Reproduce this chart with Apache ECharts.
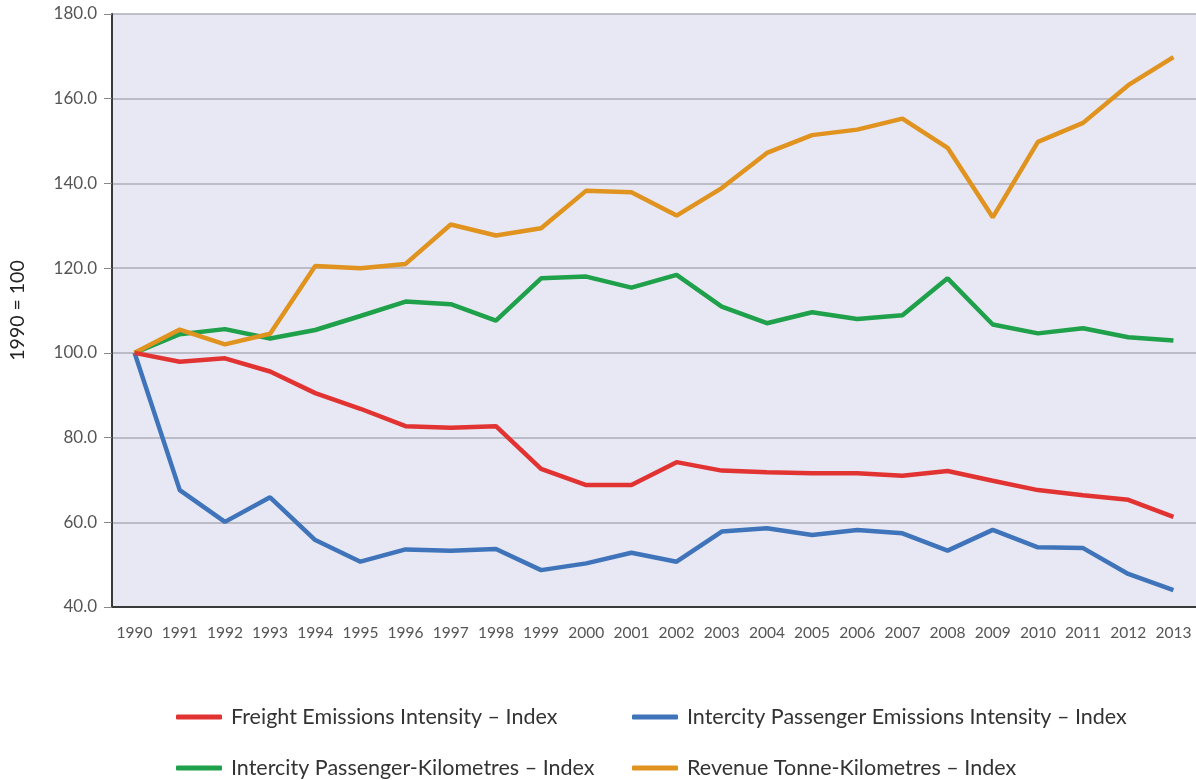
<!DOCTYPE html>
<html><head><meta charset="utf-8">
<script src="https://cdn.jsdelivr.net/npm/echarts@6/dist/echarts.min.js"></script>
<style>html,body{margin:0;padding:0;background:#fff}#c{width:1196px;height:780px}</style>
</head><body><div id="c"></div>
<script>
const years = ['1990','1991','1992','1993','1994','1995','1996','1997','1998','1999','2000','2001','2002','2003','2004','2005','2006','2007','2008','2009','2010','2011','2012','2013'];
const freightIntensity = [100,97.9,98.7,95.6,90.5,86.8,82.7,82.3,82.7,72.6,68.8,68.8,74.2,72.2,71.8,71.6,71.6,71.0,72.1,69.8,67.6,66.4,65.3,61.3];
const passengerIntensity = [100,67.6,60.1,65.9,55.8,50.7,53.6,53.3,53.7,48.7,50.3,52.8,50.7,57.8,58.6,57.0,58.2,57.4,53.3,58.2,54.1,53.9,47.8,44.0];
const passengerKm = [100,104.4,105.6,103.4,105.4,108.7,112.1,111.5,107.6,117.6,118.0,115.4,118.4,110.9,107.0,109.6,108.0,108.9,117.6,106.7,104.6,105.8,103.7,102.9];
const tonneKm = [100,105.5,102.0,104.5,120.5,120.0,121.0,130.3,127.7,129.4,138.3,137.9,132.4,138.9,147.2,151.4,152.7,155.3,148.4,132.0,149.8,154.3,163.2,169.8];
const seriesNames = ['Freight Emissions Intensity – Index','Intercity Passenger Emissions Intensity – Index','Intercity Passenger-Kilometres – Index','Revenue Tonne-Kilometres – Index'];
const colors = ['#e23333','#3f74ba','#1fa04a','#e0931f'];
const seriesData = [freightIntensity, passengerIntensity, passengerKm, tonneKm];
const legendPos = [[176, 706], [632, 706], [176, 757], [632, 757]];

const chart = echarts.init(document.getElementById('c'));
const font = 'Lato';
chart.setOption({
  animation: false,
  textStyle: {fontFamily: font},
  grid: {left: 112, right: -2, top: 14, bottom: 173, show: true, backgroundColor: '#e7e8f3', borderWidth: 0},
  legend: seriesNames.map((n, i) => ({
    data: [n], left: legendPos[i][0], top: legendPos[i][1], padding: 0,
    icon: 'roundRect', itemWidth: 46, itemHeight: 5, itemStyle: {borderWidth: 0},
    textStyle: {fontFamily: font, fontSize: 21.5, color: '#333', padding: [0,0,0,4]}
  })),
  xAxis: {
    type: 'category', data: years, boundaryGap: true,
    axisLine: {lineStyle: {color: '#3a3a3a', width: 2}},
    axisTick: {alignWithLabel: true, length: 8, lineStyle: {color: '#888'}},
    axisLabel: {color: '#555', fontSize: 15.5, margin: 18, interval: 0, fontFamily: font}
  },
  yAxis: {
    type: 'value', min: 40, max: 180, interval: 20,
    name: '1990 = 100', nameLocation: 'middle', nameGap: 84, nameRotate: 90,
    nameTextStyle: {color: '#222', fontSize: 19.5, fontFamily: font},
    axisLine: {show: true, lineStyle: {color: '#3a3a3a', width: 2}},
    axisTick: {show: true, length: 8, lineStyle: {color: '#888'}},
    axisLabel: {color: '#555', fontSize: 17, margin: 15, fontFamily: font, formatter: v => v.toFixed(1)},
    splitLine: {lineStyle: {color: '#adaeb8', width: 1.5}}
  },
  series: seriesData.map((d, i) => ({
    name: seriesNames[i], type: 'line', data: d, symbol: 'none',
    lineStyle: {width: 4.5, color: colors[i]}, itemStyle: {color: colors[i]}, z: 3 + (i === 0 ? 1 : 0)
  }))
});
</script></body></html>
